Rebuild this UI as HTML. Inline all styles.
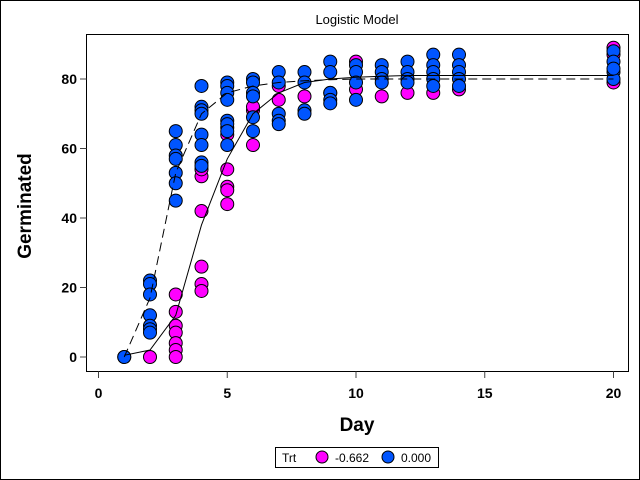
<!DOCTYPE html>
<html><head><meta charset="utf-8"><style>
body{margin:0;background:#fff}
svg{display:block;font-family:"Liberation Sans",Arial,sans-serif}
</style></head><body>
<svg width="640" height="480" viewBox="0 0 640 480" id="chart">
<rect x="0.5" y="0.5" width="639" height="479" fill="#fff" stroke="#000"/>
<text x="357" y="24" font-size="13" text-anchor="middle">Logistic Model</text>
<rect x="86.5" y="34.5" width="542" height="337" fill="none" stroke="#000"/>
<g id="axes"></g>
<g id="curves"></g>
<g id="points"></g>
<text x="357" y="431" font-size="19" font-weight="bold" text-anchor="middle">Day</text>
<text x="31" y="206" font-size="19" font-weight="bold" text-anchor="middle" transform="rotate(-90 31 206)">Germinated</text>
<g>
<rect x="275.5" y="447.5" width="163" height="20" fill="#fff" stroke="#000"/>
<text x="282" y="462" font-size="12">Trt</text>
<circle cx="322" cy="457" r="6" fill="#ff00ff" stroke="#000"/>
<text x="335" y="462" font-size="12">-0.662</text>
<circle cx="388" cy="457" r="6" fill="#0055ff" stroke="#000"/>
<text x="401" y="462" font-size="12">0.000</text>
</g>
</svg>
<script>
const xTicks=[0,5,10,15,20];
const yTicks=[0,20,40,60,80];
const magDays=[1,2,3,3,3,3,3,3,3,4,4,4,4,4,4,5,5,5,5,5,5,6,6,6,7,7,8,9,10,10,11,12,13,14,20,20,20];
const magVals=[0,0,18,13,9,7,4,2,0,26,21,19,42,52,54,54,49,48,44,64,66,61,71,72,74,78,75,76,85,77,75,76,76,77,89,87,79];
const bluDays=[1,2,2,2,2,2,2,2,3,3,3,3,3,3,3,4,4,4,4,4,4,4,4,5,5,5,5,5,5,5,5,6,6,6,6,6,6,7,7,7,7,7,8,8,8,8,9,9,9,9,9,10,10,10,10,11,11,11,11,12,12,12,12,13,13,13,13,13,14,14,14,14,14,20,20,20,20,20];
const bluVals=[0,22,21,18,12,9,8,7,65,61,58,57,53,50,45,78,72,71,70,64,61,56,55,79,78,76,74,68,67,65,61,80,79,76,75,69,65,82,79,70,68,67,82,79,71,70,85,82,76,74,73,84,82,79,74,84,82,80,79,85,82,80,79,87,84,82,80,78,87,84,82,80,78,88,85,82,80,83];
const curveDays=[1,2,3,4,5,6,7,8,9,10,11,12,13,14,20];
const solidFit=[0.5,2,12,38,57,70,76,79,80,80.5,80.8,81,81,81,81];
const dashFit=[0,17,53,70,76,78,79,79.5,79.8,80,80,80,80,80,80];
const NS='http://www.w3.org/2000/svg';
const sx=d=>98.5+d*25.75;
const sy=v=>357-v*3.475;
const axes=document.getElementById('axes');
function mk(tag,attrs,parent){const e=document.createElementNS(NS,tag);for(const k in attrs)e.setAttribute(k,attrs[k]);parent.appendChild(e);return e;}
xTicks.forEach(t=>{
 const l=mk('line',{x1:sx(t),x2:sx(t),y1:371.5,y2:378,stroke:'#444'},axes);
 
 
 const tx=mk('text',{x:sx(t),y:398,'font-size':14,'font-weight':'bold','text-anchor':'middle'},axes);
 tx.textContent=t;
 
 
});
yTicks.forEach(t=>{
 const l=mk('line',{x1:80,x2:86.5,y1:sy(t),y2:sy(t),stroke:'#444'},axes);
 
 
 const tx=mk('text',{x:77,y:sy(t)+5,'font-size':14,'font-weight':'bold','text-anchor':'end'},axes);
 tx.textContent=t;
 
 
});
const pts=document.getElementById('points');
magDays.forEach((d,i)=>{
 const c=mk('circle',{cx:sx(d),cy:sy(magVals[i]),r:6.5,fill:'#ff00ff',stroke:'#000','stroke-width':1},pts);
 
 
});
bluDays.forEach((d,i)=>{
 const c=mk('circle',{cx:sx(d),cy:sy(bluVals[i]),r:6.5,fill:'#0055ff',stroke:'#000','stroke-width':1},pts);
 
 
});
const ps=curveDays.map((d,i)=>sx(d)+','+sy(solidFit[i])).join(' ');
const pd=curveDays.map((d,i)=>sx(d)+','+sy(dashFit[i])).join(' ');
const l1=mk('polyline',{points:ps,fill:'none',stroke:'#000','stroke-width':1},document.getElementById('chart'));


const l2=mk('polyline',{points:pd,fill:'none',stroke:'#000','stroke-width':1,'stroke-dasharray':'9,5'},document.getElementById('chart'));


</script>
</body></html>
